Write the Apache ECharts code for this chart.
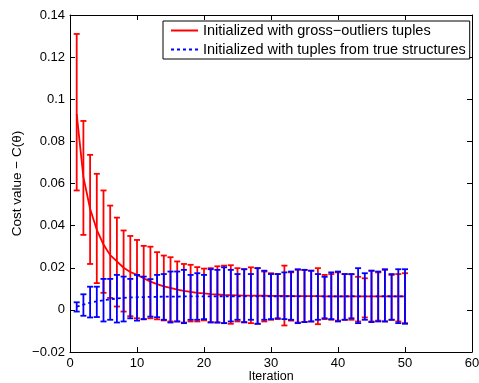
<!DOCTYPE html>
<html>
<head>
<meta charset="utf-8">
<script src="https://cdn.jsdelivr.net/npm/echarts@6/dist/echarts.min.js"></script>
<style>
  html, body { margin: 0; padding: 0; background: #fff; }
  #chart { width: 479px; height: 383px; }
</style>
</head>
<body>
<div id="chart"></div>
<script>
// data
const iterations = [1, 2, 3, 4, 5, 6, 7, 8, 9, 10, 11, 12, 13, 14, 15, 16, 17, 18, 19, 20,
  21, 22, 23, 24, 25, 26, 27, 28, 29, 30, 31, 32, 33, 34, 35, 36, 37, 38, 39, 40,
  41, 42, 43, 44, 45, 46, 47, 48, 49, 50]

const redMean = [0.093, 0.063, 0.048, 0.038, 0.031, 0.026, 0.023, 0.020, 0.018, 0.0166,
  0.015, 0.0134, 0.0122, 0.0112, 0.0104, 0.0096, 0.0090, 0.0085, 0.0081, 0.0078,
  0.0075, 0.0073, 0.0071, 0.0070, 0.0069, 0.0068, 0.0068, 0.0067, 0.0067, 0.0066,
  0.0066, 0.0066, 0.0065, 0.0065, 0.0065, 0.0065, 0.0065, 0.0064, 0.0064, 0.0064,
  0.0064, 0.0064, 0.0064, 0.0064, 0.0064, 0.0064, 0.0064, 0.0064, 0.0064, 0.0064]
const redHigh = [0.131, 0.0897, 0.0736, 0.0646, 0.0567, 0.0495, 0.0438, 0.0377, 0.0351, 0.0332,
  0.0304, 0.030, 0.0274, 0.0258, 0.025, 0.023, 0.0218, 0.0214, 0.0203, 0.0196,
  0.0198, 0.0207, 0.021, 0.0212, 0.0198, 0.0193, 0.0202, 0.0198, 0.0182, 0.0174,
  0.017, 0.021, 0.0178, 0.019, 0.019, 0.0186, 0.0198, 0.0166, 0.017, 0.0178,
  0.017, 0.0169, 0.0157, 0.015, 0.0186, 0.0178, 0.019, 0.0166, 0.017, 0.0174]
const redLow = [0.0567, 0.0356, 0.0218, 0.0127, 0.0081, 0.0057, 0.0016, -0.0008, -0.003, -0.004,
  -0.0045, -0.004, -0.0045, -0.005, -0.0055, -0.0055, -0.006, -0.0055, -0.0055, -0.005,
  -0.0058, -0.006, -0.0063, -0.0066, -0.0055, -0.006, -0.0063, -0.0066, -0.0055, -0.0047,
  -0.0044, -0.0074, -0.0051, -0.006, -0.0057, -0.0055, -0.0068, -0.0044, -0.0047, -0.0051,
  -0.0047, -0.0047, -0.0055, -0.0036, -0.0055, -0.0051, -0.0055, -0.0047, -0.0055, -0.0063]

const blueMean = [0.0015, 0.0025, 0.0034, 0.004, 0.0046, 0.005, 0.0054, 0.0057, 0.0059, 0.006,
  0.0061, 0.0062, 0.0062, 0.0063, 0.0063, 0.0063, 0.0064, 0.0064, 0.0064, 0.0064,
  0.0064, 0.0064, 0.0065, 0.0064, 0.0064, 0.0065, 0.0064, 0.0064, 0.0065, 0.0064,
  0.0064, 0.0064, 0.0065, 0.0064, 0.0064, 0.0064, 0.0065, 0.0064, 0.0064, 0.0064,
  0.0064, 0.0065, 0.0064, 0.0064, 0.0064, 0.0064, 0.0065, 0.0064, 0.0064, 0.0064]
const blueHigh = [0.0036, 0.0074, 0.011, 0.011, 0.0147, 0.0147, 0.0166, 0.0158, 0.0147, 0.0166,
  0.0158, 0.0146, 0.0166, 0.017, 0.0182, 0.0182, 0.019, 0.0166, 0.0174, 0.0166,
  0.0193, 0.019, 0.0202, 0.019, 0.017, 0.0193, 0.017, 0.0198, 0.0186, 0.017,
  0.017, 0.0178, 0.0182, 0.0193, 0.019, 0.0186, 0.017, 0.0157, 0.0178, 0.0182,
  0.017, 0.017, 0.0198, 0.0174, 0.0186, 0.0182, 0.0193, 0.017, 0.0193, 0.0193]
const blueLow = [-0.0008, -0.0028, -0.0036, -0.0034, -0.0055, -0.0047, -0.006, -0.0055, -0.004, -0.0051,
  -0.0044, -0.0032, -0.0035, -0.0047, -0.006, -0.0055, -0.0063, -0.0047, -0.0047, -0.0044,
  -0.006, -0.006, -0.0063, -0.0055, -0.0047, -0.0058, -0.0047, -0.0066, -0.0047, -0.0044,
  -0.004, -0.0044, -0.0047, -0.0063, -0.0058, -0.0055, -0.0047, -0.004, -0.0044, -0.0055,
  -0.0047, -0.004, -0.0063, -0.0047, -0.0058, -0.0055, -0.0055, -0.0047, -0.0063, -0.0066]

const seriesNames = ['Initialized with gross\u2212outliers tuples', 'Initialized with tuples from true structures']

const RED = '#ff0000'
const BLUE = '#0000ff'
const FONT = 'Liberation Sans, Arial, Helvetica, sans-serif'

// error bar drawn as vertical stroke + two caps
function makeErrorBar(color) {
  return function (params, api) {
    const x = api.value(0)
    const lo = api.coord([x, api.value(1)])
    const hi = api.coord([x, api.value(2)])
    const w = 3
    const style = { stroke: color, lineWidth: 1.8 }
    return {
      type: 'group',
      children: [
        { type: 'line', shape: { x1: hi[0], y1: hi[1], x2: lo[0], y2: lo[1] }, style },
        { type: 'line', shape: { x1: hi[0] - w, y1: hi[1], x2: hi[0] + w, y2: hi[1] }, style },
        { type: 'line', shape: { x1: lo[0] - w, y1: lo[1], x2: lo[0] + w, y2: lo[1] }, style }
      ]
    }
  }
}

const redBars = iterations.map((it, i) => [it, redLow[i], redHigh[i]])
const blueBars = iterations.map((it, i) => [it, blueLow[i], blueHigh[i]])
const redLine = iterations.map((it, i) => [it, redMean[i]])
const blueLine = iterations.map((it, i) => [it, blueMean[i]])

function yLabel(v) {
  const s = String(parseFloat(v.toFixed(2)))
  return s.replace('-', '\u2212')
}

const axisCommon = {
  axisLine: { show: true, onZero: false, lineStyle: { color: '#000', width: 1 } },
  axisTick: { show: true, inside: true, length: 5, lineStyle: { color: '#000' } },
  splitLine: { show: false }
}

const chart = echarts.init(document.getElementById('chart'))
chart.setOption({
  animation: false,
  backgroundColor: '#fff',
  textStyle: { fontFamily: FONT },
  grid: { left: 70, right: 7, top: 15, bottom: 31, outerBoundsMode: 'none', containLabel: false },
  legend: {
    left: 163,
    top: 21,
    orient: 'vertical',
    data: seriesNames,
    backgroundColor: '#fff',
    borderColor: '#000',
    borderWidth: 1,
    borderRadius: 0,
    padding: [2, 4, 2, 7],
    itemGap: 4,
    itemWidth: 27,
    itemHeight: 15,
    itemStyle: { opacity: 0 },
    textStyle: { fontSize: 14.5, color: '#000', fontFamily: FONT }
  },
  xAxis: [
    Object.assign({
      type: 'value', min: 0, max: 60, interval: 10, position: 'bottom',
      name: 'Iteration', nameLocation: 'middle', nameGap: 18, nameMoveOverlap: false,
      nameTextStyle: { fontSize: 12.5, color: '#000' },
      axisLabel: { fontSize: 13, color: '#000', margin: 5 }
    }, axisCommon),
    Object.assign({
      type: 'value', min: 0, max: 60, interval: 10, position: 'top',
      axisLabel: { show: false }
    }, axisCommon)
  ],
  yAxis: [
    Object.assign({
      type: 'value', min: -0.02, max: 0.14, interval: 0.02, position: 'left',
      name: 'Cost value \u2212 C(\u03b8)', nameLocation: 'middle', nameGap: 46, nameMoveOverlap: false,
      nameTextStyle: { fontSize: 13.5, color: '#000' },
      axisLabel: { fontSize: 13, color: '#000', margin: 5, formatter: yLabel }
    }, axisCommon),
    Object.assign({
      type: 'value', min: -0.02, max: 0.14, interval: 0.02, position: 'right',
      axisLabel: { show: false }
    }, axisCommon)
  ],
  series: [
    {
      type: 'custom', name: 'redBars', renderItem: makeErrorBar(RED),
      data: redBars, encode: { x: 0, y: [1, 2] }, z: 2, silent: true
    },
    {
      type: 'line', name: seriesNames[0], data: redLine, symbol: 'none',
      lineStyle: { color: RED, width: 1.8 }, itemStyle: { color: RED }, z: 3
    },
    {
      type: 'custom', name: 'blueBars', renderItem: makeErrorBar(BLUE),
      data: blueBars, encode: { x: 0, y: [1, 2] }, z: 4, silent: true
    },
    {
      type: 'line', name: seriesNames[1], data: blueLine, symbol: 'none',
      lineStyle: { color: BLUE, width: 1.8, type: [3, 3] }, itemStyle: { color: BLUE }, z: 5
    }
  ]
})
</script>
</body>
</html>
